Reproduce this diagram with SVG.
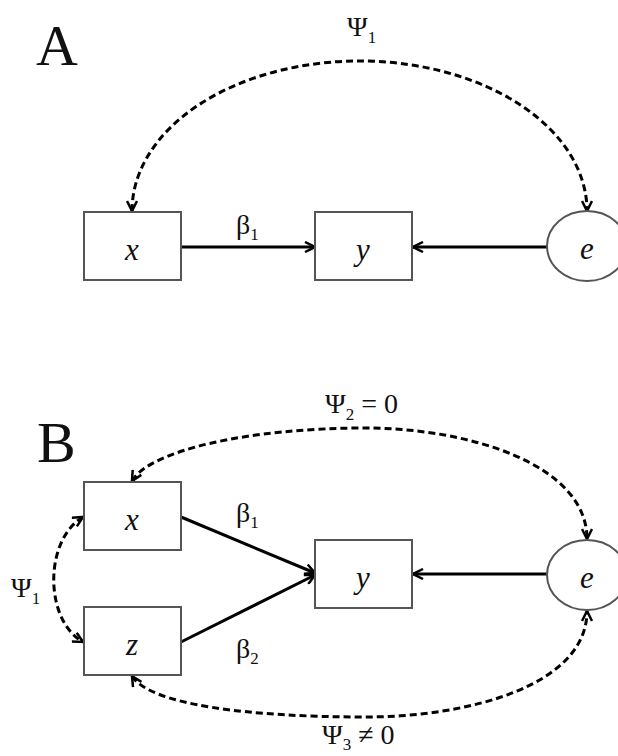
<svg xmlns="http://www.w3.org/2000/svg" width="618" height="756" viewBox="0 0 618 756">
<style>
.box{fill:#fff;stroke:#555;stroke-width:2}
.var{font-family:"Liberation Serif",serif;font-style:italic;font-size:31px;text-anchor:middle;fill:#111}
.lab{font-family:"Liberation Serif",serif;font-size:28px;fill:#111}
.big{font-family:"Liberation Serif",serif;font-size:58px;fill:#111}
.sub{font-size:17px}
.solid{fill:none;stroke:#000;stroke-width:3}
.dash{fill:none;stroke:#000;stroke-width:3;stroke-dasharray:7 4}
</style>
<defs>
<marker id="ah" viewBox="0 0 12 12" refX="11" refY="6" markerWidth="12" markerHeight="12" markerUnits="userSpaceOnUse" orient="auto-start-reverse">
<path d="M1,1 L11,6 L1,11" fill="none" stroke="#000" stroke-width="2.5"/>
</marker>
</defs>
<rect width="618" height="756" fill="#fff"/>
<text class="big" x="36" y="65">A</text>
<text class="big" x="37" y="462">B</text>
<g id="connectors">
<path class="dash" d="M132,211 A227.5,150 0 0 1 587,211" marker-start="url(#ah)" marker-end="url(#ah)"/>
<path class="solid" d="M181,247 L315,247" marker-end="url(#ah)"/>
<path class="solid" d="M547,247 L413,247" marker-end="url(#ah)"/>
<path class="dash" d="M132,481 C150,450 250,428 365,428 C470,428 587,465 587,539" marker-start="url(#ah)" marker-end="url(#ah)"/>
<path class="dash" d="M132,676 C150,705 250,717 365,717 C470,717 587,685 587,611" marker-start="url(#ah)" marker-end="url(#ah)"/>
<path class="dash" d="M83,517 C44,540 44,620 83,642" marker-start="url(#ah)" marker-end="url(#ah)"/>
<path class="solid" d="M181,517 L315,573" marker-end="url(#ah)"/>
<path class="solid" d="M181,642 L315,575" marker-end="url(#ah)"/>
<path class="solid" d="M547,574 L413,574" marker-end="url(#ah)"/>
</g>
<g id="labels">
<text class="lab" x="347" y="36">Ψ<tspan class="sub" dy="7">1</tspan></text>
<text class="lab" x="236" y="234">β<tspan class="sub" dy="6">1</tspan></text>
<text class="lab" x="325" y="413">Ψ<tspan class="sub" dy="7">2</tspan><tspan dy="-7"> = 0</tspan></text>
<text class="lab" x="322" y="744">Ψ<tspan class="sub" dy="6">3</tspan><tspan dy="-6"> ≠ 0</tspan></text>
<text class="lab" x="11" y="597">Ψ<tspan class="sub" dy="7">1</tspan></text>
<text class="lab" x="236" y="522">β<tspan class="sub" dy="6">1</tspan></text>
<text class="lab" x="236" y="658">β<tspan class="sub" dy="6">2</tspan></text>
</g>
<g id="nodeA_x"><rect class="box" x="84" y="212" width="97" height="68"/><text class="var" x="132" y="260">x</text></g>
<g id="nodeA_y"><rect class="box" x="315" y="212" width="97" height="68"/><text class="var" x="363" y="260">y</text></g>
<g id="nodeA_e"><ellipse class="box" cx="587" cy="246" rx="40" ry="35"/><text class="var" x="587" y="259">e</text></g>
<g id="nodeB_x"><rect class="box" x="84" y="482" width="97" height="68"/><text class="var" x="132" y="530">x</text></g>
<g id="nodeB_z"><rect class="box" x="84" y="607" width="97" height="68"/><text class="var" x="132" y="655">z</text></g>
<g id="nodeB_y"><rect class="box" x="315" y="540" width="97" height="68"/><text class="var" x="363" y="588">y</text></g>
<g id="nodeB_e"><ellipse class="box" cx="587" cy="575" rx="40" ry="35"/><text class="var" x="587" y="588">e</text></g>
</svg>
